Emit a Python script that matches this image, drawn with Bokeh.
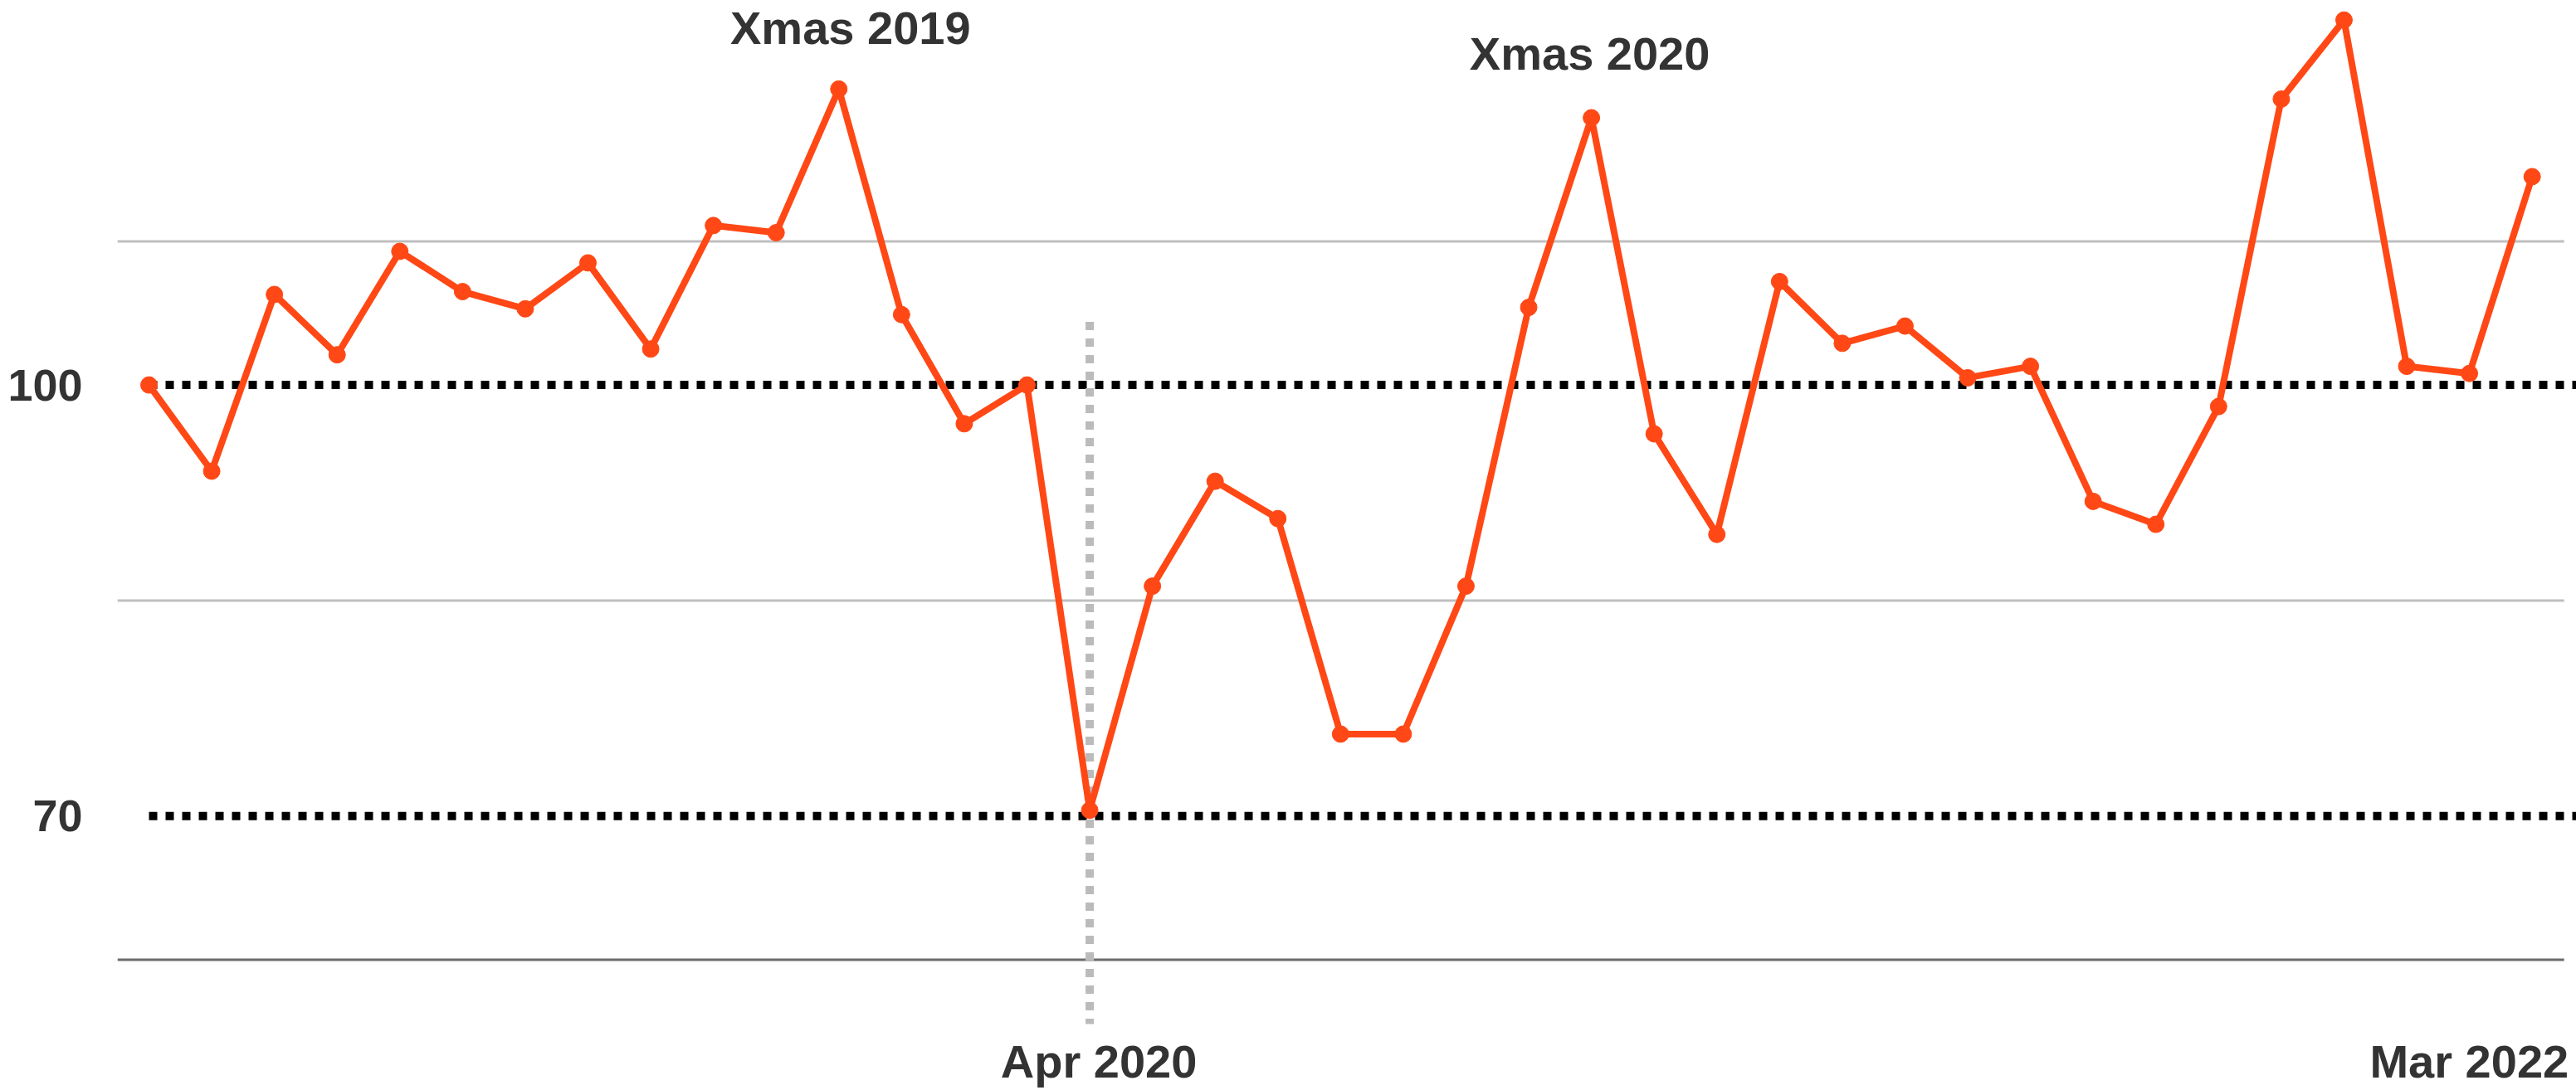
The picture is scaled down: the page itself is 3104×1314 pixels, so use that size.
from bokeh.plotting import figure
from bokeh.models import FixedTicker, ColumnDataSource, Range1d
from bokeh.core.properties import value
from bokeh.embed import file_html
from bokeh.resources import INLINE

# ---------------- data ----------------
MONTHS = [
    "Jan 2019", "Feb 2019", "Mar 2019", "Apr 2019", "May 2019", "Jun 2019",
    "Jul 2019", "Aug 2019", "Sep 2019", "Oct 2019", "Nov 2019", "Dec 2019",
    "Jan 2020", "Feb 2020", "Mar 2020", "Apr 2020", "May 2020", "Jun 2020",
    "Jul 2020", "Aug 2020", "Sep 2020", "Oct 2020", "Nov 2020", "Dec 2020",
    "Jan 2021", "Feb 2021", "Mar 2021", "Apr 2021", "May 2021", "Jun 2021",
    "Jul 2021", "Aug 2021", "Sep 2021", "Oct 2021", "Nov 2021", "Dec 2021",
    "Jan 2022", "Feb 2022", "Mar 2022",
]
VALUES = [
    100.0, 94.0, 106.3, 102.1, 109.3, 106.5, 105.3, 108.5, 102.5, 111.1, 110.6, 120.6,
    104.9, 97.3, 100.0, 70.4, 86.0, 93.3, 90.7, 75.7, 75.7, 86.0, 105.4, 118.6,
    96.6, 89.6, 107.2, 102.9, 104.1, 100.5, 101.3, 91.9, 90.3, 98.5, 119.9, 125.4,
    101.3, 100.8, 114.5,
]
REF_LEVELS = [100, 70]          # dotted reference lines
GRID_LEVELS = [85, 110]         # light grid lines
BASELINE = 60                   # dark base line
Y_TICKS = [70, 100]
X_TICK_MONTHS = ["Apr 2020", "Mar 2022"]
ANNOT_MONTHS = ["Dec 2019", "Dec 2020"]
ANNOT_TEXTS = ["Xmas 2019", "Xmas 2020"]
EVENT_MONTH = "Apr 2020"
EVENT_TOP = 104.4

# ---------------- layout / styling ----------------
ORANGE = "#FF4815"
TEXT = "#333333"
FONT = "Liberation Sans"

W, H = 3104, 1314
LEFT = 141
PX_PER_UNIT = 17.32            # vertical pixels per index point
PX_PER_MONTH = 75.57
Y_MAX = 110 + 290.4 / PX_PER_UNIT
Y_MIN = Y_MAX - H / PX_PER_UNIT
X_MIN = -0.503
X_MAX = X_MIN + (W - LEFT) / PX_PER_MONTH
GRID_X0, GRID_X1 = X_MIN, len(MONTHS) - 0.49


def y_at_px(px):
    return Y_MAX - px / PX_PER_UNIT


idx = {m: i for i, m in enumerate(MONTHS)}
xs = list(range(len(MONTHS)))

p = figure(
    width=W, height=H,
    x_range=Range1d(X_MIN, X_MAX), y_range=Range1d(Y_MIN, Y_MAX),
    output_backend="svg", toolbar_location=None, title=None,
    min_border_left=LEFT, min_border_right=0, min_border_top=0, min_border_bottom=0,
    background_fill_color="white", border_fill_color="white",
)
p.outline_line_color = None
p.xgrid.visible = False
p.ygrid.visible = False
p.xaxis.visible = False

# light grid lines and dark base line
for lvl in GRID_LEVELS:
    p.line([GRID_X0, GRID_X1], [lvl, lvl], line_color="#BFBFBF", line_width=3)
p.line([GRID_X0, GRID_X1], [BASELINE, BASELINE], line_color="#6B6B6B", line_width=3)

# y axis
yax = p.yaxis[0]
yax.ticker = FixedTicker(ticks=Y_TICKS)
yax.axis_line_color = None
yax.major_tick_line_color = None
yax.minor_tick_line_color = None
yax.major_tick_in = 0
yax.major_tick_out = 0
yax.major_label_standoff = 42
yax.major_label_text_font = FONT
yax.major_label_text_font_style = "bold"
yax.major_label_text_font_size = "54px"
yax.major_label_text_color = TEXT

# dotted reference lines
for lvl in REF_LEVELS:
    p.line([0, len(MONTHS) + 1], [lvl, lvl], line_color="black", line_width=10,
           line_dash="10 10")

# event marker (vertical dashed line)
ex = idx[EVENT_MONTH]
p.segment(x0=[ex], y0=[EVENT_TOP], x1=[ex], y1=[y_at_px(1234)], line_color="#BBBBBB",
          line_width=10, line_dash="10 10")

# series
src = ColumnDataSource(dict(x=xs, y=VALUES, month=MONTHS))
p.line("x", "y", source=src, line_color=ORANGE, line_width=8, line_join="round")
p.scatter("x", "y", source=src, size=20, fill_color=ORANGE, line_color=ORANGE)

# annotations above peaks (kept fully inside the top edge)
ann = ColumnDataSource(dict(
    x=[idx[m] for m in ANNOT_MONTHS],
    y=[min(VALUES[idx[m]] + 77.5 / PX_PER_UNIT, y_at_px(33)) for m in ANNOT_MONTHS],
    text=ANNOT_TEXTS,
    xo=[14, -2],
))
p.text("x", "y", text="text", source=ann, x_offset="xo",
       text_align="center", text_baseline="alphabetic",
       text_font=value(FONT), text_font_style="bold", text_font_size="56px",
       text_color=TEXT)

# x tick labels
last = len(X_TICK_MONTHS) - 1
xt = ColumnDataSource(dict(
    x=[idx[m] for m in X_TICK_MONTHS],
    y=[y_at_px(1279)] * len(X_TICK_MONTHS),
    text=X_TICK_MONTHS,
    align=["right" if i == last else "center" for i in range(len(X_TICK_MONTHS))],
    xo=[44 if i == last else 11 for i in range(len(X_TICK_MONTHS))],
))
p.text("x", "y", text="text", source=xt, x_offset="xo", text_align="align",
       text_baseline="alphabetic",
       text_font=value(FONT), text_font_style="bold", text_font_size="56px",
       text_color=TEXT)

open("out.html", "w").write(file_html(p, INLINE))
